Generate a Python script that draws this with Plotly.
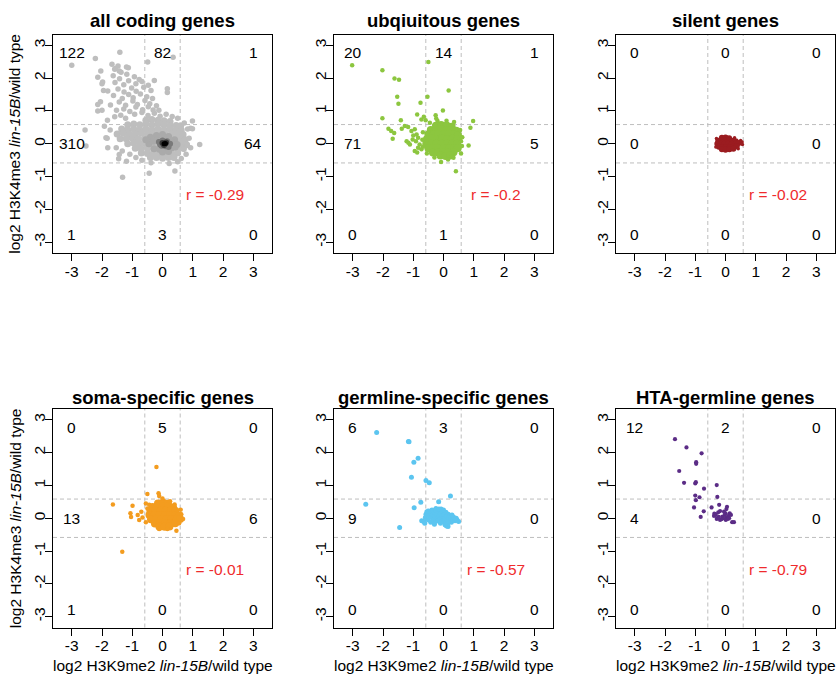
import plotly.graph_objects as go

# ---------------- data ----------------
titles = ["all coding genes", "ubqiuitous genes", "silent genes",
          "soma-specific genes", "germline-specific genes", "HTA-germline genes"]
r_values = ["r = -0.29", "r = -0.2", "r = -0.02", "r = -0.01", "r = -0.57", "r = -0.79"]
# quadrant counts: [top-left, top-mid, top-right, mid-left, mid-right, bottom-left, bottom-mid, bottom-right]
counts = [
    [122, 82, 1, 310, 64, 1, 3, 0],
    [20, 14, 1, 71, 5, 0, 1, 0],
    [0, 0, 0, 0, 0, 0, 0, 0],
    [0, 5, 0, 13, 6, 1, 0, 0],
    [6, 3, 0, 9, 0, 0, 0, 0],
    [12, 2, 0, 4, 0, 0, 0, 0],
]
tick_vals = [-3, -2, -1, 0, 1, 2, 3]
tick_text = ["-3", "-2", "-1", "0", "1", "2", "3"]
cutoff = 0.585

# panel 1: all coding genes (density-coloured grey cloud)
all_core = [
    (-0.55, 0.72), (-0.35, 0.74), (-0.15, 0.72), (0.05, 0.7), (0.25, 0.68),
    (-1.15, 0.58), (-0.95, 0.6), (-0.75, 0.58), (-0.55, 0.6), (-0.35, 0.58), (-0.15, 0.6), (0.05, 0.58), (0.25, 0.56), (0.45, 0.56), (0.6, 0.55),
    (-1.35, 0.45), (-1.15, 0.43), (-0.95, 0.45), (-0.75, 0.43), (-0.55, 0.45), (-0.35, 0.43), (-0.15, 0.45), (0.05, 0.43), (0.25, 0.45), (0.45, 0.43), (0.62, 0.42),
    (-1.5, 0.3), (-1.3, 0.32), (-1.1, 0.3), (-0.9, 0.3), (-0.7, 0.32), (-0.5, 0.3), (-0.3, 0.3), (-0.1, 0.3), (0.1, 0.3), (0.3, 0.3), (0.5, 0.3), (0.68, 0.28),
    (-1.4, 0.15), (-1.2, 0.15), (-1.0, 0.17), (-0.8, 0.15), (-0.6, 0.15), (-0.4, 0.15), (-0.2, 0.15), (0.0, 0.15), (0.2, 0.15), (0.4, 0.15), (0.6, 0.15), (0.75, 0.12),
    (-1.15, 0.0), (-0.95, 0.02), (-0.75, 0.0), (-0.55, 0.0), (-0.35, 0.0), (-0.15, 0.0), (0.05, 0.0), (0.25, 0.0), (0.45, 0.0), (0.65, 0.0), (0.78, -0.02),
    (-0.9, -0.14), (-0.7, -0.15), (-0.5, -0.14), (-0.3, -0.15), (-0.1, -0.15), (0.1, -0.15), (0.3, -0.15), (0.5, -0.15), (0.68, -0.14),
    (-0.7, -0.28), (-0.5, -0.3), (-0.3, -0.28), (-0.1, -0.3), (0.1, -0.3), (0.3, -0.28), (0.5, -0.28),
    (-0.4, -0.42), (-0.2, -0.42), (0.0, -0.44), (0.2, -0.42), (0.38, -0.42),
]
all_sparse = [
    (-0.92, 0.9), (-0.68, 0.95), (-0.48, 0.86), (-0.27, 0.93), (-0.08, 0.84), (0.12, 0.9), (0.32, 0.83),
    (-1.52, 1.02), (-1.28, 1.06), (-1.08, 0.98), (-0.88, 1.12), (-0.66, 1.04), (-0.47, 1.13), (-0.31, 1.03), (-0.12, 1.02),
    (-1.72, 1.18), (-1.43, 1.27), (-1.22, 1.17), (-0.98, 1.3), (-0.83, 1.2), (-0.58, 1.32), (-0.42, 1.22), (-0.2, 1.16),
    (-1.62, 1.47), (-1.33, 1.38), (-1.12, 1.5), (-0.97, 1.4), (-0.73, 1.52), (-0.52, 1.43), (-0.33, 1.38),
    (-1.47, 1.67), (-1.27, 1.58), (-1.02, 1.7), (-0.87, 1.6), (-0.62, 1.72), (-0.38, 1.62),
    (-1.57, 1.87), (-1.28, 1.8), (-1.12, 1.92), (-0.88, 1.83), (-0.68, 1.9), (-0.47, 1.78),
    (-1.63, 2.07), (-1.42, 1.98), (-1.18, 2.12), (-0.93, 2.04), (-0.77, 1.96),
    (-1.58, 2.27), (-1.37, 2.18), (-1.47, 2.37), (-1.13, 2.32),
    (-1.82, 0.72), (-1.58, 0.82), (-1.38, 0.87), (-1.22, 0.78), (-1.92, 0.53), (-1.73, 0.42), (-1.83, 0.17),
    (-1.53, -0.12), (-1.33, -0.22), (-1.08, -0.32), (-0.88, -0.42), (-0.68, -0.5), (-0.38, -0.58), (0.22, -0.6),
    (0.5, -0.55), (0.83, 0.45), (0.88, 0.17), (0.93, -0.12), (0.78, -0.32), (0.62, -0.45), (0.72, 0.63),
    (0.5, 0.78), (-2.0, 1.02), (-2.05, 1.28), (-1.95, 1.62), (-2.0, 1.83),
    (-3.0, 2.39), (-2.22, 2.6), (-1.41, 2.79), (-0.49, 2.49), (0.35, 2.64), (-1.67, 2.42),
    (-2.04, 2.22), (-2.14, 2.03), (-1.98, 1.88), (-1.56, 2.29), (-1.43, 2.22), (-1.19, 2.34),
    (-0.27, 1.93), (-2.14, 1.2), (-2.14, 1.0), (-1.81, 1.61), (0.16, 1.68), (0.16, 1.56),
    (0.99, 0.69), (0.93, 0.47), (0.99, 0.46), (-2.56, 0.42), (-2.53, -0.07), (1.23, -0.02),
    (-1.32, -1.02), (-0.44, -0.9), (0.41, -0.83), (-1.87, 0.18), (-1.81, -0.12), (-1.43, -0.33),
    (-1.45, -0.46), (-1.19, -0.53), (0.77, -0.07), (0.82, -0.02), (0.71, -0.17),
]
all_mid = [
    (-0.4, 0.2), (-0.2, 0.25), (0.0, 0.28), (0.2, 0.22), (0.4, 0.12), (-0.45, 0.0), (-0.3, 0.08),
    (-0.1, 0.1), (0.1, 0.12), (0.3, 0.05), (0.48, -0.02), (-0.28, -0.15), (-0.1, -0.17), (0.1, -0.16),
    (0.3, -0.12), (0.42, -0.1), (-0.55, 0.12), (0.0, -0.25), (0.2, -0.24),
]
all_dark = [(-0.12, 0.05), (0.0, 0.1), (0.15, 0.08), (0.25, 0.0), (0.1, -0.08), (-0.03, -0.06), (0.2, -0.1), (-0.08, -0.02)]
all_darker = [(0.0, 0.02), (0.08, 0.0), (0.12, 0.04), (0.05, -0.04)]
all_black = [(0.05, 0.0), (0.1, 0.01)]

# panel 2: ubiquitous genes
ubq_core = [
    (-0.25, 0.55), (-0.08, 0.57), (0.1, 0.56), (0.27, 0.52),
    (-0.42, 0.42), (-0.25, 0.42), (-0.08, 0.44), (0.1, 0.42), (0.27, 0.42), (0.42, 0.4),
    (-0.5, 0.28), (-0.33, 0.28), (-0.16, 0.3), (0.01, 0.28), (0.18, 0.3), (0.35, 0.28), (0.48, 0.26),
    (-0.55, 0.14), (-0.38, 0.15), (-0.21, 0.14), (-0.04, 0.15), (0.13, 0.14), (0.3, 0.15), (0.47, 0.14),
    (-0.57, 0.0), (-0.4, 0.0), (-0.23, 0.0), (-0.06, 0.0), (0.11, 0.0), (0.28, 0.0), (0.45, 0.0),
    (-0.5, -0.14), (-0.33, -0.14), (-0.16, -0.14), (0.01, -0.14), (0.18, -0.14), (0.35, -0.14), (0.47, -0.14),
    (-0.35, -0.27), (-0.18, -0.27), (-0.01, -0.27), (0.16, -0.27), (0.33, -0.26),
    (-0.1, -0.36), (0.07, -0.37), (0.22, -0.36),
]
ubq_sparse = [
    (-3.02, 2.39), (-2.02, 2.24), (-1.62, 1.99), (-1.47, 1.95), (-0.5, 2.49), (0.17, 1.62),
    (-1.53, 1.43), (-1.49, 1.22), (-0.76, 1.25), (-0.53, 1.43), (-2.02, 0.78), (-0.02, 1.01),
    (0.98, 0.69), (0.89, 0.49), (0.83, -0.05), (0.41, -0.84), (-0.08, -0.56),
    (-1.82, 0.46), (-1.73, 0.39), (-1.63, 0.33), (-1.68, 0.15),
    (-1.41, 0.72), (-1.38, 0.46), (-1.28, 0.54), (-1.17, 0.51), (-0.87, 0.89), (-0.73, 0.74),
    (-0.65, 0.82), (-0.59, 0.72), (-0.95, 0.44), (-1.06, 0.39), (-1.0, 0.25), (-0.89, 0.28),
    (-0.84, 0.18), (-0.91, 0.08), (-1.02, 0.13), (-0.79, -0.02), (-0.84, -0.12), (-0.95, -0.22),
    (-0.87, -0.27), (-0.73, -0.17), (-0.68, -0.09), (-1.22, 0.08), (-1.16, 0.03), (-1.11, -0.02),
    (-0.26, 0.87), (-0.24, 0.77), (-0.2, 0.7), (0.58, 0.08), (0.61, -0.07), (0.58, -0.3),
    (0.27, -0.38), (0.33, -0.43), (-0.3, -0.42), (0.15, -0.48), (-0.55, -0.3), (0.1, 0.7),
    (0.35, 0.66), (0.55, 0.42), (-0.45, 0.64), (-0.68, 0.35), (-0.7, 0.12), (0.62, 0.2),
]

# panel 3: silent genes
sil_core = [
    (-0.12, 0.18), (0.0, 0.19), (0.12, 0.17),
    (-0.24, 0.09), (-0.12, 0.1), (0.0, 0.1), (0.12, 0.1), (0.24, 0.09), (0.34, 0.08),
    (-0.27, 0.0), (-0.15, 0.0), (-0.03, 0.0), (0.09, 0.0), (0.21, 0.0), (0.33, 0.0), (0.44, 0.02),
    (-0.22, -0.09), (-0.1, -0.1), (0.02, -0.1), (0.14, -0.1), (0.26, -0.09), (0.37, -0.08),
    (-0.12, -0.17), (0.0, -0.18), (0.13, -0.17), (0.26, -0.15),
]
sil_sparse = [(0.55, 0.05), (0.56, -0.02), (0.5, 0.1), (0.42, -0.15), (-0.32, -0.1), (-0.3, 0.16), (0.3, 0.18)]

# panel 4: soma-specific genes
soma_core = [
    (-0.15, 0.45), (0.02, 0.47), (0.18, 0.44),
    (-0.33, 0.34), (-0.16, 0.35), (0.01, 0.35), (0.18, 0.35), (0.35, 0.33),
    (-0.4, 0.22), (-0.23, 0.23), (-0.06, 0.23), (0.11, 0.23), (0.28, 0.23), (0.43, 0.22),
    (-0.43, 0.1), (-0.26, 0.1), (-0.09, 0.1), (0.08, 0.1), (0.25, 0.1), (0.42, 0.1), (0.55, 0.08),
    (-0.38, -0.03), (-0.21, -0.03), (-0.04, -0.03), (0.13, -0.03), (0.3, -0.03), (0.47, -0.03), (0.58, -0.02),
    (-0.25, -0.16), (-0.08, -0.16), (0.09, -0.16), (0.26, -0.16), (0.42, -0.15),
    (-0.1, -0.26), (0.07, -0.26), (0.23, -0.25),
]
soma_sparse = [
    (-0.2, 1.56), (-1.64, 0.42), (-1.33, -1.02), (-0.5, 0.74), (-0.13, 0.76), (-0.11, 0.68),
    (-0.99, 0.38), (-1.06, 0.15), (-1.04, 0.04), (-0.82, 0.1), (-0.77, -0.05), (-0.66, 0.02),
    (-0.55, 0.45), (-0.44, 0.41), (0.46, -0.38), (0.4, 0.42), (0.6, 0.26), (0.68, -0.02),
    (0.16, -0.33), (-0.11, -0.33), (-0.7, 0.2), (-0.55, -0.12), (0.0, 0.6), (0.25, 0.52),
    (-0.5, 0.3), (0.62, 0.12), (0.55, -0.15),
]

# panel 5: germline-specific genes
germ_pts = [
    (-2.21, 2.61), (-1.16, 2.34), (-1.14, 2.33), (-0.84, 1.83), (-0.98, 1.71), (-1.06, 1.25),
    (-0.58, 1.15), (-0.47, 1.08), (0.23, 0.68), (-2.57, 0.43), (-0.75, 0.49), (-0.97, 0.32),
    (-1.45, -0.28), (-0.16, 0.5),
    (-0.72, -0.08), (-0.65, -0.1), (-0.6, 0.02), (-0.58, 0.12), (-0.55, 0.2), (-0.5, -0.05),
    (-0.48, 0.08), (-0.45, 0.15), (-0.42, -0.12), (-0.4, 0.02), (-0.38, 0.25), (-0.35, 0.1),
    (-0.33, -0.05), (-0.3, 0.18), (-0.28, 0.05), (-0.26, -0.1), (-0.24, 0.25), (-0.22, 0.12),
    (-0.2, 0.0), (-0.18, -0.08), (-0.16, 0.2), (-0.14, 0.08), (-0.12, -0.02), (-0.1, 0.15),
    (-0.08, 0.28), (-0.06, -0.1), (-0.04, 0.05), (-0.02, 0.2), (0.0, -0.05), (0.02, 0.1),
    (0.04, 0.0), (0.06, -0.15), (0.08, 0.18), (0.1, 0.06), (0.12, -0.05), (0.14, -0.2),
    (0.16, 0.12), (0.18, 0.02), (0.2, -0.1), (0.22, 0.08), (0.24, -0.02), (0.26, -0.12),
    (0.3, 0.05), (0.32, -0.06), (0.35, 0.02), (0.38, -0.08), (0.42, 0.0), (0.45, -0.05),
    (0.5, -0.1), (0.1, -0.24), (0.15, -0.25), (-0.25, 0.3), (-0.15, 0.28), (0.0, 0.25),
    (-0.3, -0.18), (0.05, -0.2), (-0.1, -0.15), (0.28, 0.1), (-0.5, 0.22), (-0.62, -0.15),
]

# panel 6: HTA-germline genes
hta_pts = [
    (-1.67, 2.41), (-1.29, 2.16), (-0.79, 1.98), (-0.97, 1.71), (-0.97, 1.66), (-1.53, 1.44),
    (-1.37, 1.08), (-1.0, 1.06), (-0.98, 1.1), (-0.71, 0.9), (-0.29, 1.01), (-0.27, 0.65),
    (-1.0, 0.69), (-0.86, 0.64), (-0.98, 0.55), (-1.04, 0.33), (-0.21, 0.41), (-0.72, 0.21),
    (-0.82, 0.04), (-0.46, 0.33), (0.05, 0.35), (0.03, 0.28),
    (-0.37, 0.14), (-0.32, 0.1), (-0.24, 0.18), (-0.18, 0.22), (-0.38, 0.07), (-0.29, -0.02),
    (-0.18, -0.05), (-0.1, 0.05), (-0.02, 0.1), (0.03, 0.02), (0.1, 0.07), (0.14, 0.15),
    (0.0, 0.15), (0.22, -0.12), (0.28, -0.12), (-0.27, 0.0), (-0.22, 0.04), (-0.13, -0.03),
    (-0.08, 0.0), (0.01, -0.05), (0.08, -0.02), (0.12, 0.0), (0.18, 0.1), (-0.05, 0.2),
]

x_title = "log2 H3K9me2 <i>lin-15B</i>/wild type"
y_title = "log2 H3K4me3 <i>lin-15B</i>/wild type"

# ---------------- layout helpers ----------------
W, H = 840, 675
col_px = [(53, 272), (334, 553), (616, 835)]
row_px = [(34.5, 253), (409, 627.5)]
FONT = "Liberation Sans, Arial, Helvetica, sans-serif"
BLACK = "#000000"
RED = "#EF2B2D"


def xs(p):
    return [a for a, b in p]


def ys(p):
    return [b for a, b in p]


fig = go.Figure()

panel_layers = [
    [(all_core, "#BEBEBE", 7), (all_sparse, "#BEBEBE", 5.5), (all_mid, "#AAAAAA", 7),
     (all_dark, "#7A7A7A", 6), (all_darker, "#3A3A3A", 6), (all_black, "#000000", 5)],
    [(ubq_core, "#8CC63F", 8), (ubq_sparse, "#8CC63F", 4.5)],
    [(sil_core, "#9B1C20", 6), (sil_sparse, "#9B1C20", 3.5)],
    [(soma_core, "#F39C1F", 8), (soma_sparse, "#F39C1F", 4.5)],
    [(germ_pts, "#5CC5F0", 5)],
    [(hta_pts, "#5B2C86", 4.2)],
]

layout_axes = {}
annotations = []
shapes = []
for i in range(6):
    r, c = divmod(i, 3)
    n = i + 1
    xa = "x" if n == 1 else f"x{n}"
    ya = "y" if n == 1 else f"y{n}"
    x0, x1 = col_px[c]
    y0, y1 = row_px[r]
    xdom = [x0 / W, x1 / W]
    ydom = [1 - y1 / H, 1 - y0 / H]
    common = dict(tickvals=tick_vals, ticktext=tick_text, ticks="outside",
                  ticklen=7, tickwidth=1, tickcolor=BLACK, showline=True, mirror=True,
                  linecolor=BLACK, linewidth=1, showgrid=False, zeroline=False,
                  tickfont=dict(family=FONT, size=15.5, color=BLACK), fixedrange=True)
    xcfg = dict(common)
    xcfg.update(domain=xdom, range=[-3.62, 3.62], anchor=ya, ticklabelstandoff=-3)
    ycfg = dict(common)
    ycfg.update(domain=ydom, range=[-3.33, 3.33], anchor=xa, tickangle=-90,
                ticklabelstandoff=-6)
    layout_axes["xaxis" if n == 1 else f"xaxis{n}"] = xcfg
    layout_axes["yaxis" if n == 1 else f"yaxis{n}"] = ycfg

    for pts, color, size in panel_layers[i]:
        fig.add_trace(go.Scatter(x=xs(pts), y=ys(pts), mode="markers", xaxis=xa, yaxis=ya,
                                 marker=dict(color=color, size=size, line=dict(width=0)),
                                 showlegend=False, hoverinfo="skip"))

    # dashed cut-off lines
    for v in (-cutoff, cutoff):
        shapes.append(dict(type="line", xref=xa, yref=f"{ya} domain", x0=v, x1=v, y0=0, y1=1,
                           line=dict(color="#BEBEBE", width=1, dash="4px,3px"), layer="below"))
        shapes.append(dict(type="line", xref=f"{xa} domain", yref=ya, x0=0, x1=1, y0=v, y1=v,
                           line=dict(color="#BEBEBE", width=1, dash="4px,3px"), layer="below"))

    # quadrant counts
    cx = [-3, 0, 3, -3, 3, -3, 0, 3]
    cy = [2.78, 2.78, 2.78, 0, 0, -2.78, -2.78, -2.78]
    for k in range(8):
        annotations.append(dict(x=cx[k], y=cy[k], xref=xa, yref=ya, text=str(counts[i][k]),
                                showarrow=False, font=dict(family=FONT, size=15.5, color=BLACK),
                                xanchor="center", yanchor="middle"))
    annotations.append(dict(x=1.75, y=-1.55, xref=xa, yref=ya, text=r_values[i], showarrow=False,
                            font=dict(family=FONT, size=15.5, color=RED), xanchor="center",
                            yanchor="middle"))
    # panel title
    annotations.append(dict(x=(x0 + x1) / 2 / W, y=1 - (21 if r == 0 else 397) / H, xref="paper",
                            yref="paper", text=f"<b>{titles[i]}</b>", showarrow=False,
                            font=dict(family=FONT, size=18.5, color=BLACK), xanchor="center",
                            yanchor="middle"))
    if r == 1:
        annotations.append(dict(x=(x0 + x1) / 2 / W, y=1 - 665 / H, xref="paper", yref="paper",
                                text=x_title, showarrow=False,
                                font=dict(family=FONT, size=15.5, color=BLACK),
                                xanchor="center", yanchor="middle"))
    if c == 0:
        annotations.append(dict(x=15 / W, y=1 - (y0 + y1) / 2 / H, xref="paper", yref="paper",
                                text=y_title, showarrow=False, textangle=-90,
                                font=dict(family=FONT, size=15.5, color=BLACK),
                                xanchor="center", yanchor="middle"))

fig.update_layout(width=W, height=H, margin=dict(l=0, r=0, t=0, b=0),
                  paper_bgcolor="white", plot_bgcolor="white",
                  annotations=annotations, shapes=shapes, showlegend=False, **layout_axes)

fig.write_html("out.html", config={"displayModeBar": False},
               post_script="document.body.style.margin='0';document.body.style.overflow='hidden';")
